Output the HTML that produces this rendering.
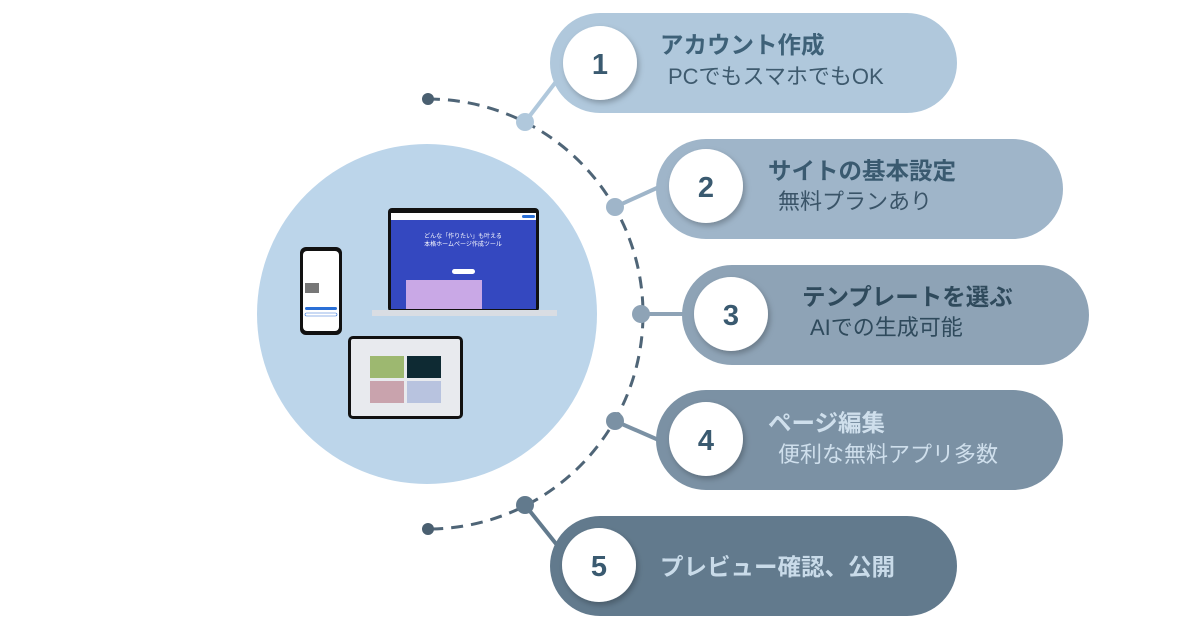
<!DOCTYPE html>
<html><head><meta charset="utf-8"><style>
html,body{margin:0;padding:0;background:#fff;}
svg{display:block;}
.t{font-family:"Liberation Sans","Noto Sans CJK JP",sans-serif;font-weight:bold;font-size:23.5px;}
.s{font-family:"Liberation Sans","Noto Sans CJK JP",sans-serif;font-size:22px;}
.n{font-family:"Liberation Sans","Noto Sans CJK JP",sans-serif;font-weight:bold;font-size:29px;fill:#3a5a70;}
</style></head><body>
<svg width="1200" height="628" viewBox="0 0 1200 628" xmlns="http://www.w3.org/2000/svg">
<defs>
<filter id="sh" x="-30%" y="-30%" width="160%" height="160%"><feDropShadow dx="2" dy="3" stdDeviation="3" flood-color="#000" flood-opacity="0.25"/></filter>
</defs>
<circle cx="427" cy="314" r="170" fill="#bcd5ea"/>
<!-- phone -->
<rect x="300" y="247" width="42" height="88" rx="6" fill="#111"/>
<rect x="303" y="251" width="36" height="80" rx="4" fill="#fff"/>
<rect x="305" y="283" width="14" height="10" fill="#777"/>
<rect x="305" y="307" width="32" height="3" rx="1.5" fill="#2a6fd6"/>
<rect x="305" y="313" width="32" height="3" rx="1.5" fill="none" stroke="#2a6fd6" stroke-width="0.6"/>
<!-- laptop -->
<rect x="388" y="208" width="151" height="104" rx="4" fill="#111"/>
<rect x="391" y="213" width="145" height="96" fill="#3448c0"/>
<rect x="391" y="213" width="145" height="7" fill="#fff"/>
<rect x="522" y="215" width="13" height="3" rx="1.5" fill="#2a6fd6"/>
<text x="463" y="238" font-size="6" fill="#fff" text-anchor="middle" font-family="Noto Sans CJK JP">どんな「作りたい」も叶える</text>
<text x="463" y="246" font-size="6" fill="#fff" text-anchor="middle" font-family="Noto Sans CJK JP">本格ホームページ作成ツール</text>
<rect x="452" y="269" width="23" height="5" rx="2.5" fill="#fff"/>
<rect x="406" y="280" width="76" height="29" fill="#c9a8e6"/>
<rect x="372" y="310" width="185" height="6" fill="#d9dde3"/>
<!-- tablet -->
<rect x="348" y="336" width="115" height="83" rx="5" fill="#111"/>
<rect x="351" y="339" width="109" height="77" rx="2" fill="#e8eaee"/>
<rect x="370" y="356" width="34" height="22" fill="#9db870"/>
<rect x="407" y="356" width="34" height="22" fill="#0e2a33"/>
<rect x="370" y="381" width="34" height="22" fill="#c9a3ad"/>
<rect x="407" y="381" width="34" height="22" fill="#b8c3df"/>
<!-- dashed arc -->
<path d="M428 99 A215 215 0 0 1 428 529" fill="none" stroke="#4f6577" stroke-width="3" stroke-dasharray="12 8"/>
<circle cx="428" cy="99" r="6" fill="#4a5f70"/>
<circle cx="428" cy="529" r="6" fill="#4a5f70"/>
<!-- connectors -->
<line x1="525" y1="122" x2="565" y2="70" stroke="#b0c8dc" stroke-width="4"/>
<line x1="615" y1="207" x2="670" y2="182" stroke="#9fb5c9" stroke-width="4"/>
<line x1="641" y1="314" x2="695" y2="314" stroke="#8ea3b6" stroke-width="4"/>
<line x1="615" y1="421" x2="670" y2="445" stroke="#7b91a4" stroke-width="4"/>
<line x1="525" y1="505" x2="565" y2="555" stroke="#627a8d" stroke-width="4"/>
<circle cx="525" cy="122" r="9" fill="#b0c8dc"/>
<circle cx="615" cy="207" r="9" fill="#9fb5c9"/>
<circle cx="641" cy="314" r="9" fill="#8ea3b6"/>
<circle cx="615" cy="421" r="9" fill="#7b91a4"/>
<circle cx="525" cy="505" r="9" fill="#627a8d"/>
<!-- pills -->
<rect x="550" y="13" width="407" height="100" rx="50" fill="#b0c8dc"/>
<rect x="656" y="139" width="407" height="100" rx="50" fill="#9fb5c9"/>
<rect x="682" y="265" width="407" height="100" rx="50" fill="#8ea3b6"/>
<rect x="656" y="390" width="407" height="100" rx="50" fill="#7b91a4"/>
<rect x="550" y="516" width="407" height="100" rx="50" fill="#627a8d"/>
<g filter="url(#sh)" fill="#fff">
<circle cx="600" cy="63" r="37"/>
<circle cx="706" cy="186" r="37"/>
<circle cx="731" cy="314" r="37"/>
<circle cx="706" cy="439" r="37"/>
<circle cx="599" cy="565" r="37"/>
</g>
<text class="n" x="600" y="74" text-anchor="middle">1</text>
<text class="n" x="706" y="197" text-anchor="middle">2</text>
<text class="n" x="731" y="325" text-anchor="middle">3</text>
<text class="n" x="706" y="450" text-anchor="middle">4</text>
<text class="n" x="599" y="576" text-anchor="middle">5</text>
<text class="t" x="660" y="53" fill="#3e6178">アカウント作成</text>
<text class="s" x="668" y="84" fill="#3e5a6e">PCでもスマホでもOK</text>
<text class="t" x="768" y="179" fill="#3a5a70">サイトの基本設定</text>
<text class="s" x="778" y="209" fill="#3a5468">無料プランあり</text>
<text class="t" x="802" y="305" fill="#2f4a5c">テンプレートを選ぶ</text>
<text class="s" x="810" y="335" fill="#2f4a5c">AIでの生成可能</text>
<text class="t" x="768" y="431" fill="#cfdfec">ページ編集</text>
<text class="s" x="778" y="462" fill="#cfdfec">便利な無料アプリ多数</text>
<text class="t" x="660" y="575" fill="#c9dbe9">プレビュー確認、公開</text>
</svg>
</body></html>
